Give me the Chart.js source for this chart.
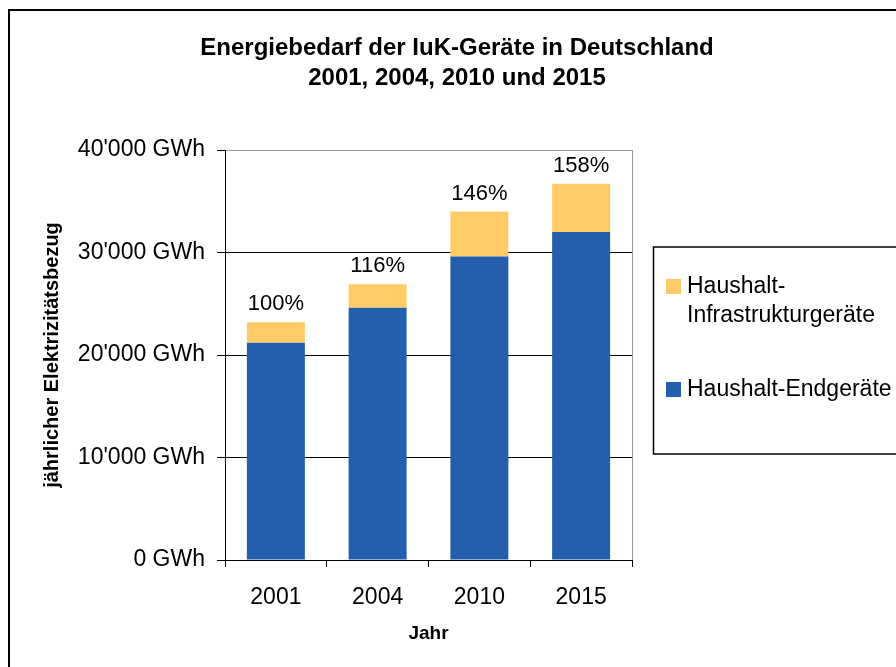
<!DOCTYPE html>
<html>
<head>
<meta charset="utf-8">
<script src="https://cdn.jsdelivr.net/npm/chart.js@4"></script>
<style>
  html, body { margin: 0; padding: 0; background: #fff; }
  #wrap { position: relative; width: 896px; height: 667px; }
</style>
</head>
<body>
<div id="wrap"><canvas id="chart" width="896" height="667"></canvas></div>
<script>
// --- DATA ---
const years = ['2001', '2004', '2010', '2015'];
const endgeraete = [21200, 24600, 29600, 32000];
const infrastruktur = [2000, 2300, 4400, 4700];
const percentLabels = ['100%', '116%', '146%', '158%'];
const titleLines = ['Energiebedarf der IuK-Geräte in Deutschland', '2001, 2004, 2010 und 2015'];

const FONT = '"Liberation Sans", Arial, sans-serif';
const BLUE = '#245FAD';
const YELLOW = '#FFCB66';

// 40000 -> "40'000"
function fmt(v) {
    return String(v).replace(/\B(?=(\d{3})+(?!\d))/g, "'");
}

// --- EXTRA DRAWING: frame, title, percent labels, legend box ---
const decor = {
    id: 'decor',
    beforeDraw(chart) {
        const ctx = chart.ctx;
        ctx.save();
        ctx.fillStyle = '#fff';
        ctx.fillRect(0, 0, chart.width, chart.height);
        ctx.restore();
    },
    afterDraw(chart) {
        const { ctx, chartArea: a } = chart;
        ctx.save();

        // outer border (runs off right/bottom like the original)
        ctx.strokeStyle = '#000';
        ctx.lineWidth = 2;
        ctx.strokeRect(9, 10, 920, 700);

        // right edge of plot area
        ctx.strokeStyle = '#999';
        ctx.lineWidth = 1;
        ctx.beginPath();
        ctx.moveTo(Math.round(a.right) + 0.5, a.top);
        ctx.lineTo(Math.round(a.right) + 0.5, a.bottom);
        ctx.stroke();

        // title
        ctx.fillStyle = '#000';
        ctx.font = 'bold 24px ' + FONT;
        ctx.textAlign = 'center';
        ctx.textBaseline = 'alphabetic';
        ctx.fillText(titleLines[0], 457, 55);
        ctx.fillText(titleLines[1], 457, 85);

        // percent labels above stacks
        ctx.font = '22px ' + FONT;
        const top = chart.getDatasetMeta(1);
        top.data.forEach((bar, i) => {
            ctx.fillText(percentLabels[i], bar.x, bar.y - 12);
        });

        // legend
        ctx.strokeStyle = '#000';
        ctx.lineWidth = 1.5;
        ctx.strokeRect(653.5, 247, 260, 207);
        ctx.font = '23px ' + FONT;
        ctx.textAlign = 'left';
        ctx.fillStyle = YELLOW;
        ctx.fillRect(666, 279, 15, 15);
        ctx.fillStyle = BLUE;
        ctx.fillRect(666, 382, 15, 15);
        ctx.fillStyle = '#000';
        ctx.fillText('Haushalt-', 687, 293);
        ctx.fillText('Infrastrukturgeräte', 687, 322);
        ctx.fillText('Haushalt-Endgeräte', 687, 396);

        ctx.restore();
    }
};

// --- CHART ---
const chart = new Chart(document.getElementById('chart').getContext('2d'), {
    type: 'bar',
    data: {
        labels: years,
        datasets: [
            {
                label: 'Haushalt-Endgeräte',
                data: endgeraete,
                backgroundColor: BLUE,
                barPercentage: 0.57,
                categoryPercentage: 1
            },
            {
                label: 'Haushalt-Infrastrukturgeräte',
                data: infrastruktur,
                backgroundColor: YELLOW,
                barPercentage: 0.57,
                categoryPercentage: 1
            }
        ]
    },
    options: {
        responsive: false,
        animation: false,
        layout: { padding: { left: 0, right: 264, top: 150, bottom: 0 } },
        plugins: {
            legend: { display: false },
            tooltip: { enabled: false }
        },
        scales: {
            x: {
                stacked: true,
                ticks: { color: '#000', font: { size: 23, family: FONT }, padding: 17 },
                grid: { offset: true, drawOnChartArea: false, color: '#000', tickLength: 7 },
                border: { color: '#000' },
                title: {
                    display: true, text: 'Jahr', color: '#000',
                    font: { size: 19, weight: 'bold', family: FONT },
                    padding: { top: 0, bottom: 22 }
                },
                afterFit(scale) { scale.height = 107; }
            },
            y: {
                stacked: true,
                min: 0,
                max: 40000,
                ticks: {
                    stepSize: 10000, color: '#000', padding: 12,
                    font: { size: 23, family: FONT },
                    callback: v => fmt(v) + ' GWh'
                },
                grid: {
                    color: c => (c.tick && c.tick.value === 40000) ? '#999' : '#000',
                    tickColor: '#000',
                    tickLength: 8
                },
                border: { color: '#000' },
                title: {
                    display: true, text: 'jährlicher Elektrizitätsbezug', color: '#000',
                    font: { size: 20, weight: 'bold', family: FONT },
                    padding: { top: 40, bottom: 0 }
                },
                afterFit(scale) { scale.width = 225; }
            }
        }
    },
    plugins: [decor]
});
</script>
</body>
</html>
